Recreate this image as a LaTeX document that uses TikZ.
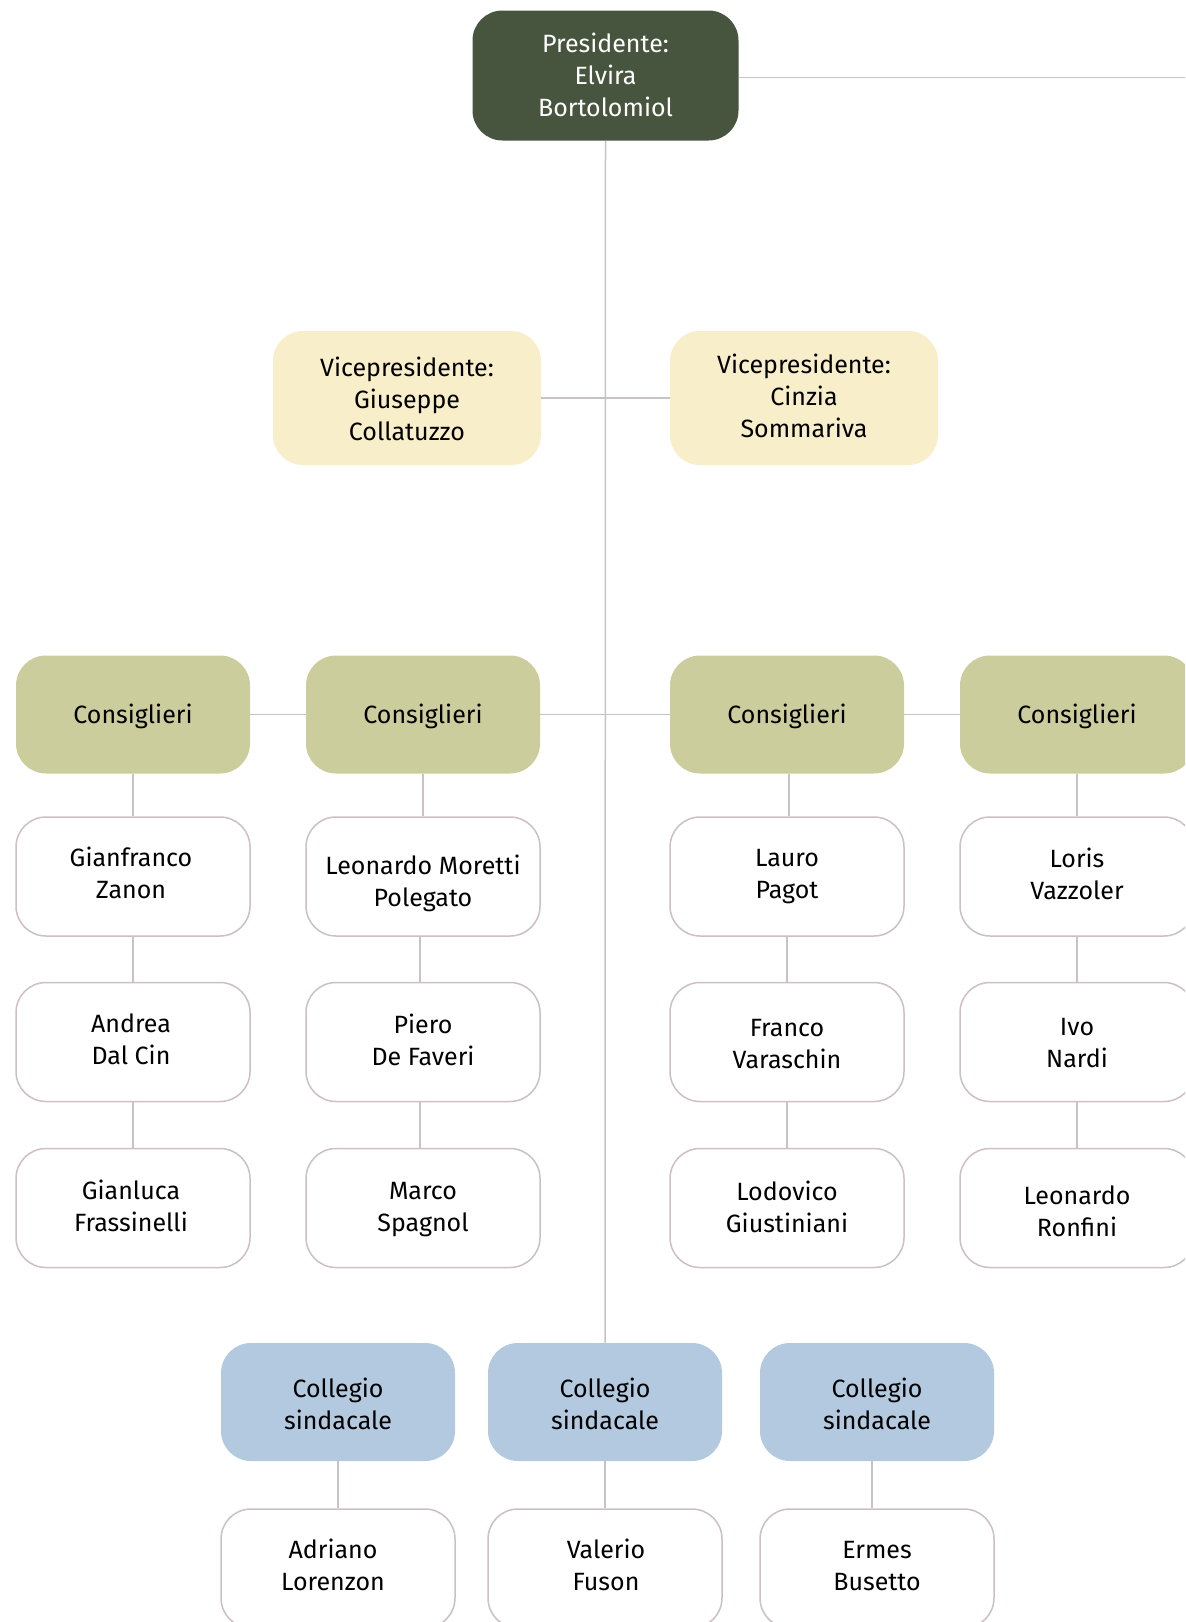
\documentclass[tikz,border=0pt]{standalone}
\usepackage{fontspec}
\setmainfont{Fira Sans}
\definecolor{presfill}{HTML}{47543E}
\definecolor{vicefill}{HTML}{F8EECA}
\definecolor{consfill}{HTML}{CCCD9C}
\definecolor{collfill}{HTML}{B2C9DF}
\definecolor{edgecol}{HTML}{CDBFC3}
\definecolor{linecol}{HTML}{C9C1C4}
% text block: #1 horizontal shift, #2 vertical shift, #3 lines
\newcommand{\tx}[3]{\raisebox{#2}[\height][\depth]{\kern#1\begin{tabular}{@{}c@{}}#3\end{tabular}\kern-#1}}
\begin{document}
\begin{tikzpicture}[x=0.5pt,y=-0.5pt,
  base/.style={rounded corners=15pt, align=center, inner sep=0pt,
    minimum width=117pt, minimum height=59pt,
    font=\fontsize{12.5}{16}\selectfont, text=black},
  presbox/.style={base, fill=presfill, text=white, minimum width=133pt, minimum height=65pt},
  vicebox/.style={base, fill=vicefill, minimum width=134pt, minimum height=67pt},
  consbox/.style={base, fill=consfill},
  collbox/.style={base, fill=collfill},
  personbox/.style={base, fill=white, draw=edgecol, line width=0.75pt, minimum height=59.5pt},
  conn/.style={draw=linecol, line width=0.75pt}]
\clip (0,0) rectangle (1185,1622);
\fill[white] (0,0) rectangle (1185,1622);

% nodes
\node[presbox] (pres) at (605.5,75.5) {\tx{0pt}{-1.5pt}{Presidente:\\Elvira\\Bortolomiol}};
\coordinate (redge) at (1190,77.5);

\node[vicebox] (vl) at (407,398) {\tx{0pt}{-2pt}{Vicepresidente:\\Giuseppe\\Collatuzzo}};
\node[vicebox] (vr) at (804,398) {\tx{0pt}{-0.5pt}{Vicepresidente:\\Cinzia\\Sommariva}};

\node[consbox] (c1) at (133,714.5) {\tx{0pt}{-1.5pt}{Consiglieri}};
\node[consbox] (c2) at (423,714.5) {\tx{0pt}{-1.5pt}{Consiglieri}};
\node[consbox] (c3) at (787,714.5) {\tx{0pt}{-1.5pt}{Consiglieri}};
\node[consbox] (c4) at (1077,714.5) {\tx{0pt}{-1.5pt}{Consiglieri}};

\node[personbox] (p11) at (133,876.5) {\tx{-1pt}{0pt}{Gianfranco\\Zanon}};
\node[personbox] (p12) at (133,1042) {\tx{-1pt}{0pt}{Andrea\\Dal Cin}};
\node[personbox] (p13) at (133,1208) {\tx{-1pt}{-0.5pt}{Gianluca\\Frassinelli}};

\node[personbox] (p21) at (423,876.5) {\tx{0pt}{-3.6pt}{Leonardo Moretti\\Polegato}};
\node[personbox] (p22) at (423,1042) {\tx{0pt}{-0.5pt}{Piero\\De Faveri}};
\node[personbox] (p23) at (423,1208) {\tx{0pt}{-0.5pt}{Marco\\Spagnol}};

\node[personbox] (p31) at (787,876.5) {\tx{0pt}{0pt}{Lauro\\Pagot}};
\node[personbox] (p32) at (787,1042) {\tx{0pt}{-2pt}{Franco\\Varaschin}};
\node[personbox] (p33) at (787,1208) {\tx{0pt}{-1pt}{Lodovico\\Giustiniani}};

\node[personbox] (p41) at (1077,876.5) {\tx{0pt}{-0.5pt}{Loris\\Vazzoler}};
\node[personbox] (p42) at (1077,1042) {\tx{0pt}{-1.5pt}{Ivo\\Nardi}};
\node[personbox] (p43) at (1077,1208) {\tx{0pt}{-3pt}{Leonardo\\Ronfini}};

\node[collbox] (s1) at (338,1402) {\tx{0pt}{-2.3pt}{Collegio\\sindacale}};
\node[collbox] (s2) at (605,1402) {\tx{0pt}{-2.3pt}{Collegio\\sindacale}};
\node[collbox] (s3) at (877,1402) {\tx{0pt}{-2.3pt}{Collegio\\sindacale}};

\node[personbox] (b1) at (338,1568.5) {\tx{-2.5pt}{0pt}{Adriano\\Lorenzon}};
\node[personbox] (b2) at (605,1568.5) {\tx{0.5pt}{0pt}{Valerio\\Fuson}};
\node[personbox] (b3) at (877,1568.5) {\tx{0pt}{0pt}{Ermes\\Busetto}};

% connectors
\draw[conn] (pres.east |- redge) -- (redge);
\draw[conn] (pres.south) -- (s2.north);
\draw[conn] (vl.east) -- (vr.west);
\draw[conn] (c1.east) -- (c2.west);
\draw[conn] (c2.east) -- (c3.west);
\draw[conn] (c3.east) -- (c4.west);
\draw[conn] (c1.south) -- (p11.north);
\draw[conn] (p11.south) -- (p12.north);
\draw[conn] (p12.south) -- (p13.north);
\draw[conn] (c2.south) -- (p21.north);
\draw[conn] ([xshift=-1.5pt]p21.south) -- ([xshift=-1.5pt]p22.north);
\draw[conn] ([xshift=-1.5pt]p22.south) -- ([xshift=-1.5pt]p23.north);
\draw[conn] ([xshift=1pt]c3.south) -- ([xshift=1pt]p31.north);
\draw[conn] (p31.south) -- (p32.north);
\draw[conn] (p32.south) -- (p33.north);
\draw[conn] (c4.south) -- (p41.north);
\draw[conn] (p41.south) -- (p42.north);
\draw[conn] (p42.south) -- (p43.north);
\draw[conn] (s1.south) -- (b1.north);
\draw[conn] (s2.south) -- (b2.north);
\draw[conn] ([xshift=-2.5pt]s3.south) -- ([xshift=-2.5pt]b3.north);
\end{tikzpicture}
\end{document}
